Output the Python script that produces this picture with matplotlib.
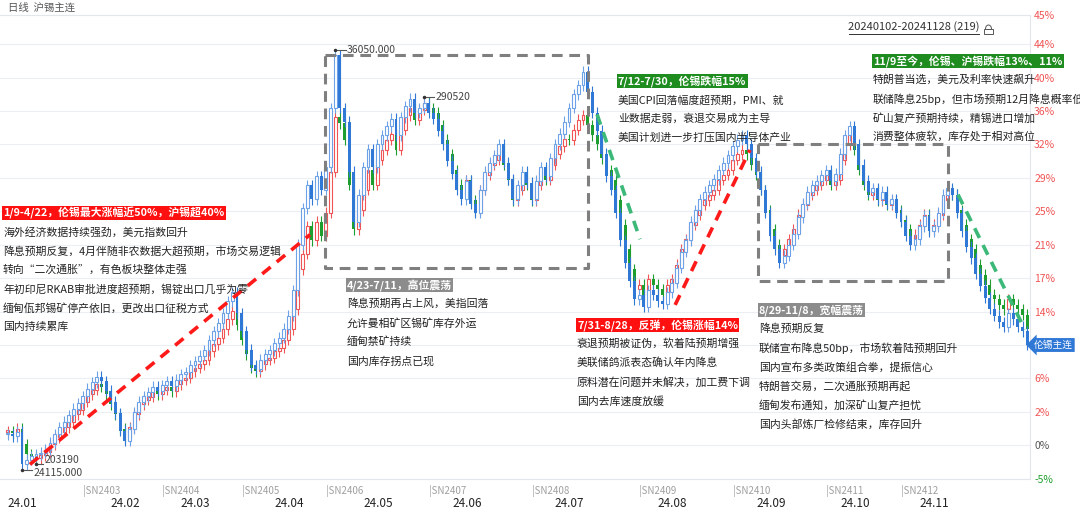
import numpy as np
import matplotlib.pyplot as plt
from matplotlib.lines import Line2D
from matplotlib.patches import Rectangle, Arc

plt.rcParams['font.family'] = ['Noto Sans CJK SC', 'DejaVu Sans']

# 沪锡主连 daily close, % change vs first day (axis units)
shfe_close = [
    1.5, 1.4, 1.8, 0.1, -1.0, -1.3, -1.4, -1.1, -0.7, 0.1,
    0.9, 1.5, 2.0, 2.6, 3.4, 3.9, 4.8, 5.6, 6.1, 6.7,
    6.4, 5.6, 4.5, 3.4, 1.8, 0.9, 2.0, 3.4, 4.5, 5.0,
    5.3, 5.9, 5.6, 6.1, 6.4, 5.9, 6.7, 7.2, 7.4, 8.1,
    8.5, 8.9, 9.4, 10.3, 11.1, 11.8, 12.7, 13.8, 14.7, 13.2,
    11.6, 10.0, 8.5, 8.1, 8.9, 9.4, 9.6, 10.3, 10.7, 11.6,
    12.7, 14.9, 19.3, 21.0, 24.0, 22.5, 24.5, 23.0, 25.5, 30.0,
    36.0, 35.3, 33.5, 28.6, 23.7, 25.8, 28.0, 30.2, 28.6, 31.3,
    32.4, 33.5, 34.1, 32.4, 34.6, 36.2, 37.0, 35.7, 36.8, 37.6,
    37.0, 36.5, 35.1, 33.5, 31.9, 30.2, 28.6, 27.5, 29.1, 26.9,
    25.8, 28.0, 29.7, 30.8, 31.3, 32.4, 30.8, 29.1, 26.9, 28.0,
    29.7, 28.6, 26.9, 28.6, 30.2, 29.1, 30.8, 32.0, 32.8, 33.6,
    33.5, 34.6, 35.7, 36.2, 35.1, 34.0, 33.0, 31.5, 30.2, 29.1,
    26.9, 24.2, 21.5, 19.3, 17.1, 17.6, 16.5, 18.2, 17.6, 17.1,
    16.5, 17.6, 18.2, 19.8, 21.5, 22.6, 24.2, 25.3, 26.4, 26.9,
    27.5, 28.0, 29.1, 29.7, 30.2, 31.3, 31.9, 32.4, 31.9, 30.8,
    29.7, 28.0, 25.8, 23.7, 22.0, 20.9, 21.5, 22.6, 23.7, 25.3,
    26.4, 27.5, 28.0, 28.6, 29.1, 29.7, 28.6, 29.1, 31.3, 33.0,
    34.1, 32.4, 30.2, 28.6, 27.5, 28.0, 26.9, 27.5, 26.4, 26.9,
    25.8, 24.7, 23.7, 22.6, 23.1, 24.2, 25.3, 23.7, 24.2, 25.3,
    26.9, 28.0, 27.5, 25.8, 24.2, 22.6, 21.5, 19.8, 18.7, 17.6,
    16.5, 16.0, 15.4, 14.9, 16.0, 15.4, 14.9, 14.3, 12.7,
]

# 伦锡主连 daily close, % change vs first day
lme_close = [
    1.2, 1.0, 1.5, -2.1, -1.6, -1.2, -1.0, -0.8, -0.5, 0.3,
    1.2, 2.0, 2.6, 3.3, 4.0, 4.6, 5.4, 6.2, 6.9, 7.5,
    7.0, 6.0, 4.8, 3.5, 1.6, 0.5, 1.8, 3.6, 4.8, 5.4,
    5.8, 6.4, 6.0, 6.6, 7.0, 6.5, 7.2, 7.8, 8.0, 8.8,
    9.2, 9.8, 10.4, 11.5, 12.5, 13.4, 14.5, 15.8, 16.8, 14.5,
    12.5, 10.5, 8.8, 8.4, 9.4, 10.0, 10.4, 11.2, 11.8, 12.8,
    14.2, 17.0, 22.0, 26.0, 28.5, 27.0, 29.5, 28.0, 30.5, 37.0,
    42.8, 37.0, 35.5, 30.0, 24.5, 27.5, 30.5, 32.5, 30.5, 33.0,
    34.0, 35.0, 35.8, 34.0, 36.0, 37.2, 38.0, 36.5, 37.0, 37.5,
    36.5, 35.8, 34.5, 33.0, 31.2, 29.8, 28.0, 27.0, 29.0, 26.5,
    25.5, 28.0, 30.0, 31.0, 31.8, 33.0, 31.0, 29.2, 27.0, 28.5,
    30.0, 28.8, 27.0, 29.0, 30.5, 29.5, 31.5, 33.0, 34.2, 35.5,
    37.0, 38.5, 39.5, 41.0, 38.8, 36.5, 34.5, 32.0, 29.5, 28.0,
    25.5, 22.5, 20.0, 18.0, 16.0, 16.5, 15.2, 17.0, 16.5, 15.8,
    15.5, 16.8, 17.8, 19.5, 21.2, 22.5, 24.5, 25.8, 27.0, 27.8,
    28.5, 29.2, 30.2, 31.0, 31.8, 32.8, 33.5, 34.0, 33.0, 31.5,
    30.0, 28.0, 25.5, 23.0, 21.5, 20.0, 20.8, 22.0, 23.2, 25.0,
    26.5, 27.8, 28.5, 29.0, 29.6, 30.2, 29.0, 29.8, 32.0, 34.0,
    35.0, 33.0, 30.8, 29.0, 27.8, 28.2, 27.0, 27.8, 26.5, 27.0,
    25.5, 24.5, 23.0, 22.0, 22.6, 24.0, 25.2, 23.5, 24.0, 25.5,
    27.5, 28.2, 27.5, 25.5, 23.5, 21.8, 20.5, 18.8, 17.5, 16.2,
    15.0, 14.2, 13.5, 13.0, 14.5, 13.8, 13.0, 12.5, 11.0,
]

month_labels = ['24.01', '24.02', '24.03', '24.04', '24.05', '24.06',
                '24.07', '24.08', '24.09', '24.10', '24.11']
month_pos = [0, 22, 37, 57, 76, 95, 117, 139, 160, 178, 195]
contract_labels = ['SN2403', 'SN2404', 'SN2405', 'SN2406', 'SN2407',
                   'SN2408', 'SN2409', 'SN2410', 'SN2411', 'SN2412']
contract_pos = [16, 33, 50, 68, 90, 112, 135, 155, 175, 191]
pct_labels = ['-5%', '0%', '2%', '6%', '10%', '14%', '17%', '21%', '25%',
              '29%', '32%', '36%', '40%', '44%']

RED = '#f05454'
GREEN = '#1e9e2e'
BLUE = '#2f78d6'
BLUE_L = '#6da3e6'
STEP = 3.667
WICK = 0.6


def px_x(x):
    return x / 1080


def px_y(y):
    return 1 - y / 509


def candles(ax, close, up_edge, down_color, z):
    close = np.asarray(close, dtype=float)
    opens = np.r_[close[0], close[:-1]]
    x = np.arange(len(close))
    top = np.maximum(opens, close)
    bot = np.minimum(opens, close)
    up = close >= opens
    cols = np.where(up, up_edge, down_color)
    ax.vlines(x, bot - WICK, top + WICK, colors=cols, lw=0.8, zorder=z)
    h = np.maximum(top - bot, 0.15)
    ax.bar(x[up], h[up], bottom=bot[up], width=0.62, facecolor='white',
           edgecolor=up_edge, lw=0.8, zorder=z + 0.1)
    ax.bar(x[~up], h[~up], bottom=bot[~up], width=0.62, color=down_color,
           lw=0, zorder=z + 0.1)
    return top + WICK, bot - WICK


fig = plt.figure(figsize=(10.8, 5.09), dpi=100)
ax = fig.add_axes([0, px_y(479), 1030 / 1080, (479 - 15) / 509])
ax.set_xlim(-1.7, 218.6)
ax.set_ylim(-3.7, 47.2)

shfe_hi, shfe_lo = candles(ax, shfe_close, RED, GREEN, 2)
lme_hi, lme_lo = candles(ax, lme_close, BLUE_L, BLUE, 3)

# y axis on the right
ticks = [STEP * k for k in range(-1, 13)] + [47.2]
ax.yaxis.tick_right()
ax.set_yticks(ticks)
ax.set_yticklabels(pct_labels + ['45%'], fontsize=7.5)
for lab, t in zip(ax.get_yticklabels(), ticks):
    lab.set_color('#555555' if abs(t) < 0.01 else (GREEN if t < 0 else RED))
ax.tick_params(axis='y', length=0, pad=3)
ax.grid(axis='y', color='#eceef4', lw=0.8, zorder=0)

ax.set_xticks(month_pos)
ax.set_xticklabels(month_labels, fontsize=8.5, color='#222222', ha='left')
ax.tick_params(axis='x', length=0, pad=13)
for p, lab in zip(contract_pos, contract_labels):
    ax.text(p, -0.012, '|' + lab, transform=ax.get_xaxis_transform(),
            fontsize=7, color='#a0a0a0', va='top', ha='left')

ax.spines['left'].set_visible(False)
for s in ['top', 'bottom', 'right']:
    ax.spines[s].set_color('#e4e6ee')


# highs / lows labels
def mark(i, y, text, dx=2.2, dy=0.0):
    ax.plot([i, i + dx], [y, y], color='#555555', lw=0.8, zorder=6)
    ax.plot(i, y, 'o', ms=1.5, color='#333333', zorder=6)
    ax.text(i + dx + 0.3, y + dy, text, fontsize=7.5, color='#444444',
            va='center', zorder=6)


i = int(np.argmax(lme_hi))
mark(i, lme_hi[i], '36050.000')
i = int(np.argmax(shfe_hi))
mark(i, shfe_hi[i], '290520')
i = int(np.argmin(shfe_lo))
mark(i, shfe_lo[i], '203190', dx=1.5, dy=0.35)
i = int(np.argmin(lme_lo))
mark(i, lme_lo[i], '24115.000', dy=-0.35)

# range boxes and trend lines
box = dict(color='#7f7f7f', lw=2.2, ls=(0, (3.5, 2.2)), zorder=5)
for (x0, x1, y0, y1) in [(67.9, 124.1, 19.5, 42.8), (160.4, 201.1, 18.0, 33.0)]:
    ax.plot([x0, x1, x1, x0, x0], [y1, y1, y0, y0, y1], **box)
trend = [((4.7, -2.1), (64.6, 23.1), '#ff1a1a'),
         ((142.7, 15.4), (158.7, 32.4), '#ff1a1a'),
         ((126.0, 36.3), (135.2, 22.6), '#3cb878'),
         ((203.2, 27.5), (217.5, 12.7), '#3cb878')]
for (a, b, c) in trend:
    ax.plot([a[0], b[0]], [a[1], b[1]], color=c, lw=2.6, ls=(0, (3, 2.2)), zorder=5)

# text blocks
blocks = [
    (3, 213, '1/9-4/22，伦锡最大涨幅近50%，沪锡超40%', '#ff1010',
     ['海外经济数据持续强劲，美元指数回升',
      '降息预期反复，4月伴随非农数据大超预期，市场交易逻辑',
      '转向“二次通胀”，有色板块整体走强',
      '年初印尼RKAB审批进度超预期，锡锭出口几乎为零',
      '缅甸佤邦锡矿停产依旧，更改出口征税方式',
      '国内持续累库']),
    (347, 285, '4/23-7/11，高位震荡', '#8c8c8c',
     ['降息预期再占上风，美指回落',
      '允许曼相矿区锡矿库存外运',
      '缅甸禁矿持续',
      '国内库存拐点已现']),
    (618, 81, '7/12-7/30，伦锡跌幅15%', '#1e8c1e',
     ['美国CPI回落幅度超预期，PMI、就',
      '业数据走弱，衰退交易成为主导',
      '美国计划进一步打压国内半导体产业']),
    (577, 325, '7/31-8/28，反弹，伦锡涨幅14%', '#ff1010',
     ['衰退预期被证伪，软着陆预期增强',
      '美联储鸽派表态确认年内降息',
      '原料潜在问题并未解决，加工费下调',
      '国内去库速度放缓']),
    (759, 310, '8/29-11/8，宽幅震荡', '#8c8c8c',
     ['降息预期反复',
      '联储宣布降息50bp，市场软着陆预期回升',
      '国内宣布多类政策组合拳，提振信心',
      '特朗普交易，二次通胀预期再起',
      '缅甸发布通知，加深矿山复产担忧',
      '国内头部炼厂检修结束，库存回升']),
    (873, 61, '11/9至今，伦锡、沪锡跌幅13%、11%', '#1e8c1e',
     ['特朗普当选，美元及利率快速飙升',
      '联储降息25bp，但市场预期12月降息概率低',
      '矿山复产预期持续，精锡进口增加',
      '消费整体疲软，库存处于相对高位']),
]
for (x, y, head, bg, lines) in blocks:
    fig.text(px_x(x), px_y(y), head, fontsize=7.8, color='white', weight='bold',
             va='center', ha='left', zorder=10,
             bbox=dict(boxstyle='square,pad=0.12', fc=bg, ec='none'))
    for k, line in enumerate(lines):
        fig.text(px_x(x), px_y(y + 19 * (k + 1)), line, fontsize=7.8,
                 color='#222222', va='center', ha='left', zorder=10)

# header texts
fig.text(px_x(8), px_y(8), '日线  沪锡主连', fontsize=7.5, color='#555555', va='center')
fig.text(px_x(914), px_y(27), '20240102-20241128 (219)', fontsize=8,
         color='#333333', ha='center', va='center')
fig.add_artist(Line2D([px_x(849), px_x(979)], [px_y(34), px_y(34)], color='#333333', lw=0.7))
# small lock icon
fig.add_artist(Rectangle((px_x(984), px_y(34)), 9 / 1080, 5 / 509, fill=False,
                         ec='#555555', lw=0.7, transform=fig.transFigure))
fig.add_artist(Arc((px_x(988.5), px_y(29)), 6 / 1080, 8 / 509, theta1=0, theta2=180,
                   ec='#555555', lw=0.7, transform=fig.transFigure))

# last price tag
ax.text(218.6 + 0.8, lme_close[-1], '伦锡主连', fontsize=7, color='white',
        va='center', ha='left', zorder=10, clip_on=False,
        bbox=dict(boxstyle='larrow,pad=0.2', fc=BLUE, ec='none'))

fig.savefig('out.png', dpi=100)
